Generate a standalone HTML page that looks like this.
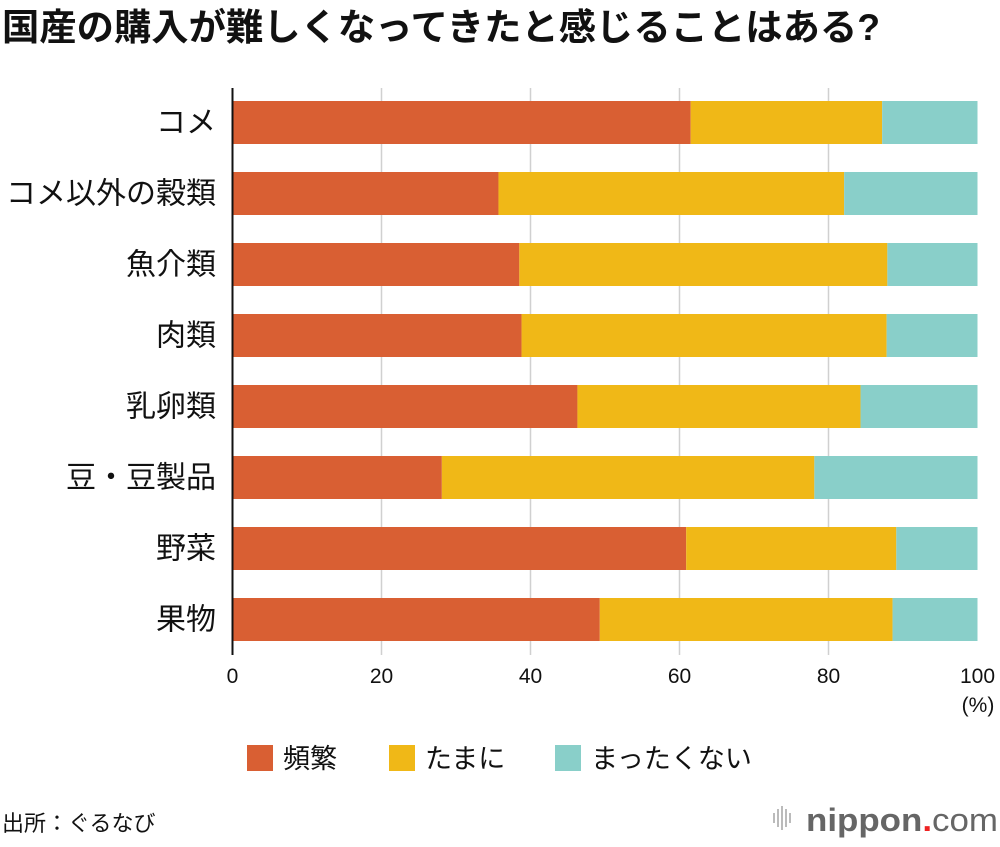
<!DOCTYPE html>
<html><head><meta charset="utf-8">
<style>
body{margin:0;background:#fff;width:1000px;height:842px;overflow:hidden;font-family:"Liberation Sans","Noto Sans CJK JP",sans-serif;}
</style></head><body>
<svg width="1000" height="842" id="c" xmlns="http://www.w3.org/2000/svg" font-family="'Liberation Sans','Noto Sans CJK JP',sans-serif">
<text x="2" y="40" font-size="37" font-weight="bold" fill="#111" textLength="878" lengthAdjust="spacingAndGlyphs">国産の購入が難しくなってきたと感じることはある?</text>
<g id="grid"></g>
<g id="bars"></g>
<g id="labels"></g>
<g id="ticks"></g>
<text x="978" y="712" font-size="21" text-anchor="middle" fill="#111">(%)</text>
<g>
<rect x="247" y="745" width="26" height="26" fill="#d95f33"/>
<text x="283" y="768" font-size="27" fill="#111">頻繁</text>
<rect x="389" y="745" width="26" height="26" fill="#f0b817"/>
<text x="425" y="768" font-size="27" fill="#111">たまに</text>
<rect x="555" y="745" width="26" height="26" fill="#89cfc9"/>
<text x="591" y="768" font-size="27" fill="#111">まったくない</text>
</g>
<text x="2" y="831" font-size="22" fill="#111">出所：ぐるなび</text>
<g>
<g fill="#bbb"><rect x="773" y="813" width="2" height="10"/><rect x="777" y="809" width="2" height="18"/><rect x="781" y="806" width="2" height="24"/><rect x="785" y="809" width="2" height="18"/><rect x="789" y="813" width="2" height="10"/></g>
<text x="806" y="831" font-size="32" fill="#666" font-weight="bold" textLength="192" lengthAdjust="spacingAndGlyphs">nippon<tspan fill="#e22">.</tspan><tspan font-weight="normal">com</tspan></text>
</g>
</svg>
<script>
const categories=["コメ","コメ以外の穀類","魚介類","肉類","乳卵類","豆・豆製品","野菜","果物"];
const frequent=[61.5,35.7,38.5,38.8,46.3,28.1,60.9,49.3];
const sometimes=[25.7,46.4,49.4,49.0,38.0,50.0,28.2,39.3];
const never=[12.8,17.9,12.1,12.2,15.7,21.9,10.9,11.4];
const tickValues=[0,20,40,60,80,100];
const NS="http://www.w3.org/2000/svg";
const x0=232.5,pxPer=7.45,yTop=101,step=71,bh=43;
const xs=v=>x0+v*pxPer;
const ys=i=>yTop+i*step;
function mk(t,a,p){const e=document.createElementNS(NS,t);for(const k in a)e.setAttribute(k,a[k]);p.appendChild(e);return e;}
const grid=document.getElementById('grid'),bars=document.getElementById('bars'),labels=document.getElementById('labels'),ticks=document.getElementById('ticks');
tickValues.forEach(v=>{
 if(v>0&&v<100){const l=mk('line',{x1:xs(v),x2:xs(v),y1:88,y2:655,stroke:'#d0d0d0','stroke-width':1.5},grid);
 
 }
 const t=mk('text',{x:xs(v),y:683,'font-size':21,'text-anchor':'middle',fill:'#111'},ticks);t.textContent=v;
 
 
});
const series=[[frequent,'#d95f33','frequent'],[sometimes,'#f0b817','sometimes'],[never,'#89cfc9','never']];
categories.forEach((c,i)=>{
 let acc=0;
 series.forEach(([arr,col,nm])=>{
  const r=mk('rect',{x:xs(acc),y:ys(i),width:arr[i]*pxPer,height:bh,fill:col},bars);
  
  
  acc+=arr[i];
 });
 const t=mk('text',{x:216,y:ys(i)+bh/2+10,'font-size':30,'text-anchor':'end',fill:'#111'},labels);t.textContent=c;
 
 
});
const ax=mk('line',{x1:x0,x2:x0,y1:88,y2:655,stroke:'#111','stroke-width':2},ticks);


</script>
</body></html>
